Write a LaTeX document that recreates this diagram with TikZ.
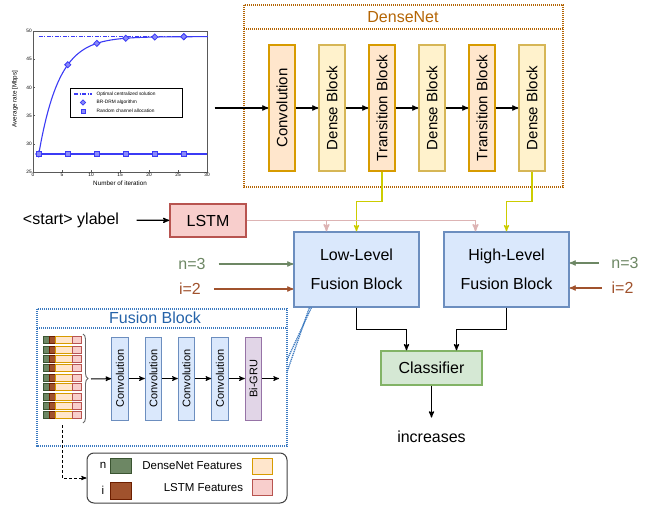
\documentclass[tikz,border=0pt]{standalone}
\usepackage{fontspec}
\setmainfont{Liberation Sans}
\usepackage{tikz}
\usetikzlibrary{arrows,shapes.geometric,decorations.pathreplacing}

\definecolor{convfill}{HTML}{FFE6CC}
\definecolor{convline}{HTML}{D79B00}
\definecolor{densefill}{HTML}{FFF2CC}
\definecolor{denseline}{HTML}{D6B656}
\definecolor{lstmfill}{HTML}{F8CECC}
\definecolor{lstmline}{HTML}{B85450}
\definecolor{fusefill}{HTML}{DAE8FC}
\definecolor{fuseline}{HTML}{6C8EBF}
\definecolor{clsfill}{HTML}{D5E8D4}
\definecolor{clsline}{HTML}{82B366}
\definecolor{grufill}{HTML}{E1D5E7}
\definecolor{gruline}{HTML}{9673A6}
\definecolor{netbrown}{HTML}{B46504}
\definecolor{fuseblue}{HTML}{3C7AC0}
\definecolor{fusetitle}{HTML}{2462A8}
\definecolor{ngreen}{HTML}{6D8764}
\definecolor{ngreenline}{HTML}{3A5431}
\definecolor{ibrown}{HTML}{A0522D}
\definecolor{ibrownline}{HTML}{6D1F00}
\definecolor{featlink}{HTML}{CCCC00}
\definecolor{lstmlink}{HTML}{DDB4B4}
\definecolor{plotblue}{HTML}{3B3BF5}

\begin{document}
\begin{tikzpicture}[x=1pt,y=-1pt,>=stealth',semithick,line width=1.2pt]

  \tikzstyle{netblock}=[rectangle,draw,rotate=90,minimum width=126pt,minimum height=26pt,
                        inner sep=0pt,line width=1.3pt,font=\fontsize{15}{18}\selectfont]
  \tikzstyle{convblock}=[netblock,fill=convfill,draw=convline]
  \tikzstyle{denseblock}=[netblock,fill=densefill,draw=denseline]
  \tikzstyle{fusion}=[rectangle,draw=fuseline,fill=fusefill,line width=1.3pt,minimum width=125pt,
                      minimum height=75pt,align=center,font=\fontsize{16}{29}\selectfont]
  \tikzstyle{smallconv}=[rectangle,draw=fuseline,fill=fusefill,rotate=90,minimum width=83pt,
                         minimum height=16.5pt,inner sep=0pt,line width=1pt,font=\fontsize{11}{13}\selectfont]
  \tikzstyle{big}=[font=\fontsize{16}{19}\selectfont]
  \tikzstyle{small}=[font=\fontsize{11.5}{14}\selectfont]
  \tikzstyle{tiny}=[font=\fontsize{4.8}{5}\selectfont,inner sep=1pt]
  \tikzstyle{dmark}=[diamond,draw=plotblue,fill=plotblue!60,inner sep=0pt,minimum size=6.5pt,line width=0.8pt]
  \tikzstyle{smark}=[rectangle,draw=plotblue,fill=plotblue!60,inner sep=0pt,minimum size=4.5pt,line width=0.8pt]
  \tikzstyle{netdot}=[draw=netbrown,dash pattern=on 1.2pt off 0.8pt,line width=1.3pt]
  \tikzstyle{fusedot}=[draw=fuseblue,dash pattern=on 1.2pt off 0.8pt,line width=1.3pt]

  \useasboundingbox (0,0) rectangle (654,506);

  % rate curves of the input
  \node (plot) [minimum width=204pt,minimum height=160pt] at (112,108) {};
  \begin{scope}[shift={(33,172)},x=5.8pt,y=5.64pt,line width=0.4pt]
    \draw[gray!70!black] (0,0) rectangle (30,25);
    \foreach \t in {0,5,...,30} {
      \draw[gray!70!black] (\t,0) -- (\t,0.4);
      \node[tiny,below] (xt\t) at (\t,0) {\t};
    }
    \foreach \h/\v in {0/25,5/30,10/35,15/40,20/45,25/50} {
      \draw[gray!70!black] (0,\h) -- (0.4,\h);
      \node[tiny,left] (yt\v) at (0,\h) {\v};
    }
    \draw[plotblue,line width=1.3pt,dash pattern=on 4pt off 1.5pt on 1pt off 1.5pt] (1,24) -- (30,24);
    \draw[plotblue,line width=1.1pt] (1,3.2) -- (30,3.2);
    \draw[plotblue,line width=1.1pt] plot[domain=1:30,samples=80,smooth] (\x,{24-20.8*exp(-(\x-1)/3.5)});
    \foreach \t in {1,6,...,26} {
      \pgfmathsetmacro\r{24-20.8*exp(-(\t-1)/3.5)}
      \node[dmark] (dm\t) at (\t,\r) {};
      \node[smark] (sq\t) at (\t,3.2) {};
    }
    \node[dmark] (dmend) at (26,24) {};
  \end{scope}
  \node[font=\fontsize{6.3}{7}\selectfont] (xlab) at (120,183) {Number of iteration};
  \node[font=\fontsize{6.3}{7}\selectfont,rotate=90] (ylab) at (15,99) {Average rate [Mbps]};
  \draw[line width=0.4pt,fill=white] (70,88) rectangle (182,117);
  \draw[plotblue,line width=1.2pt,dash pattern=on 4pt off 1.5pt on 1pt off 1.5pt] (74,94) -- (92,94);
  \node[dmark,minimum size=5.5pt] (lgdm) at (83,102.5) {};
  \node[smark,minimum size=4pt] (lgsq) at (83,111) {};
  \node[tiny,anchor=west] (lg1) at (95,94) {Optimal centralized solution};
  \node[tiny,anchor=west] (lg2) at (95,102.5) {BR-DRM algorithm};
  \node[tiny,anchor=west] (lg3) at (95,111) {Random channel allocation};

  % DenseNet branch
  \draw[netdot] (244,5) rectangle (563,187);
  \draw[netdot] (244,29) -- (563,29);
  \node[big,text=netbrown] (nettitle) at (403,17) {DenseNet};

  \node[convblock]  (conv)   at (282,108) {Convolution};
  \node[denseblock] (dense1) at (332,108) {Dense Block};
  \node[convblock]  (trans1) at (382,108) {Transition Block};
  \node[denseblock] (dense2) at (432,108) {Dense Block};
  \node[convblock]  (trans2) at (482,108) {Transition Block};
  \node[denseblock] (dense3) at (532,108) {Dense Block};

  \path[->]
  (plot)   edge (conv)
  (conv)   edge (dense1)
  (dense1) edge (trans1)
  (trans1) edge (dense2)
  (dense2) edge (trans2)
  (trans2) edge (dense3);

  % LSTM branch
  \node[big,inner xsep=0pt] (start) at (71,220) {<start> ylabel};
  \node[rectangle,draw=lstmline,fill=lstmfill,line width=1.3pt,minimum width=76pt,minimum height=33pt,big]
        (lstm) at (208,220.5) {LSTM};
  \draw[->,shorten <=17pt] (start) -- (lstm);

  % fusion and classification
  \node[fusion] (low)  at (356.5,269.5)     {Low-Level\\Fusion Block};
  \node[fusion] (high) [right of=low,node distance=150pt] {High-Level\\Fusion Block};

  \draw[->,featlink] (trans1.west) -- ++(0,30) -| (low.north);
  \draw[->,featlink] (dense3.west) -- ++(0,30) -| (high.north);
  \draw[->,lstmlink,line width=1.5pt] (lstm.east) -| ([xshift=-31pt]high.north);
  \draw[->,lstmlink,line width=1.5pt] ([xshift=-30pt]low.north |- lstm.east) -- ([xshift=-30pt]low.north);

  \node[big,text=ngreen] (nlow)  at (192,264) {n=3};
  \node[big,text=ibrown] (ilow)  at (190,289) {i=2};
  \node[big,text=ngreen] (nhigh) at (625,263) {n=3};
  \node[big,text=ibrown] (ihigh) at (622.5,288) {i=2};
  \draw[->,ngreen,shorten <=9pt] (nlow) -- (nlow -| low.west);
  \draw[->,ibrown,shorten <=9pt] (ilow) -- (ilow -| low.west);
  \draw[->,ngreen,shorten <=9pt] (nhigh) -- (nhigh -| high.east);
  \draw[->,ibrown,shorten <=6pt] (ihigh) -- (ihigh -| high.east);

  \node[rectangle,draw=clsline,fill=clsfill,line width=1.3pt,minimum width=101pt,minimum height=34pt,big]
        (cls) at (431.5,368) {Classifier};
  \node[big,inner sep=0pt] (out) [below of=cls,node distance=69pt] {increases};
  \draw[->] (low.south)  -- ++(0,22) -| ([xshift=-25pt]cls.north);
  \draw[->] (high.south) -- ++(0,22) -| ([xshift=25pt]cls.north);
  \draw[->,shorten >=13pt] (cls) -- (out);

  % inside of a fusion block
  \draw[fusedot] (37,309) rectangle (287,446);
  \draw[fusedot] (37,328) -- (287,328);
  \node[big,text=fusetitle] (fusetitle) at (155,318) {Fusion Block};
  \coordinate (callA) at (287,360);
  \coordinate (callB) at (287,372);
  \draw[fusedot] ([xshift=18pt]low.south west) -- (callA);
  \draw[fusedot] ([xshift=16pt]low.south west) -- (callB);

  \foreach \k in {0,...,8} {
    \pgfmathsetmacro\ry{340+9.4*\k}
    \draw[line width=0.8pt,draw=ngreenline,fill=ngreen]  (43,{\ry-3.5}) rectangle (49,{\ry+3.5});
    \draw[line width=0.8pt,draw=ibrownline,fill=ibrown]  (49,{\ry-3.5}) rectangle (55,{\ry+3.5});
    \draw[line width=0.8pt,draw=convline,fill=convfill]  (55,{\ry-3.5}) rectangle (72,{\ry+3.5});
    \draw[line width=0.8pt,draw=lstmline,fill=lstmfill]  (72,{\ry-3.5}) rectangle (81,{\ry+3.5});
  }
  \draw[decorate,decoration={brace,amplitude=5pt},draw=gray!80!black,line width=0.9pt] (83,334) -- (83,423);
  \coordinate (bracetip) at (91,379);

  \node[smallconv] (fc1) at (120,378.5)   {Convolution};
  \node[smallconv] (fc2) at (153.5,378.5) {Convolution};
  \node[smallconv] (fc3) at (186.5,378.5) {Convolution};
  \node[smallconv] (fc4) at (220,378.5)   {Convolution};
  \node[smallconv,draw=gruline,fill=grufill] (gru) at (253.5,378.5) {Bi-GRU};
  \coordinate (gruout) at (279,378.5);

  \path[->,line width=1pt]
  (bracetip) edge (fc1)
  (fc1) edge (fc2)
  (fc2) edge (fc3)
  (fc3) edge (fc4)
  (fc4) edge (gru)
  (gru) edge (gruout);

  % legend of the feature rows
  \node[rectangle,rounded corners=7pt,draw=black!75,line width=1pt,minimum width=200pt,minimum height=50pt]
        (legend) at (187,478) {};
  \coordinate (featfoot) at (62,425);
  \draw[->,line width=0.9pt,dash pattern=on 3pt off 2pt] (featfoot) |- (legend.west);
  \node[small] (nkey) at (103,465.5) {n};
  \node[small] (ikey) at (103,490) {i};
  \node[rectangle,draw=ngreenline,fill=ngreen,line width=0.8pt,minimum width=21pt,minimum height=15pt,inner sep=0pt] (nbox) at (120.5,465.5) {};
  \node[rectangle,draw=ibrownline,fill=ibrown,line width=0.8pt,minimum width=21pt,minimum height=17pt,inner sep=0pt] (ibox) at (120.5,490.5) {};
  \node[small,anchor=east] (dkey) at (246,466) {DenseNet Features};
  \node[small,anchor=east] (lkey) at (247,487.5) {LSTM Features};
  \node[rectangle,draw=convline,fill=convfill,line width=0.8pt,minimum width=20pt,minimum height=16pt,inner sep=0pt] (dbox) at (262,466) {};
  \node[rectangle,draw=lstmline,fill=lstmfill,line width=0.8pt,minimum width=20pt,minimum height=16pt,inner sep=0pt] (lbox) at (262,487) {};

\end{tikzpicture}
\end{document}
